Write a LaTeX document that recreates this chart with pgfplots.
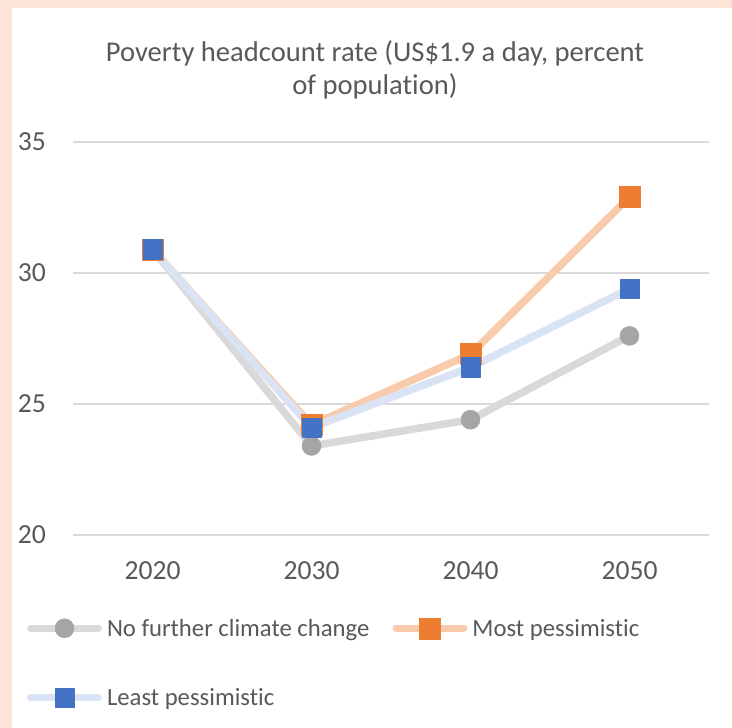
\documentclass[border=0pt]{standalone}
\usepackage{fontspec}
\setmainfont{Carlito}[Ligatures=NoCommon]
\usepackage{pgfplots}
\pgfplotsset{compat=1.18}
\definecolor{peach}{HTML}{FCE4D6}
\definecolor{txt}{HTML}{595959}
\definecolor{gridc}{HTML}{D9D9D9}
\definecolor{greyL}{HTML}{D9D9D9}
\definecolor{greyM}{HTML}{A5A5A5}
\definecolor{orL}{HTML}{F8CBAD}
\definecolor{orM}{HTML}{ED7D31}
\definecolor{blL}{HTML}{DAE3F3}
\definecolor{blM}{HTML}{4472C4}
\begin{document}
\begin{tikzpicture}
\useasboundingbox (-73bp,-193bp) rectangle (659bp,535bp);
\fill[peach] (-73bp,-193bp) rectangle (659bp,535bp);
\fill[white] (-61bp,-193bp) rectangle (659bp,527bp);
\begin{axis}[
 at={(0,0)}, anchor=south west, scale only axis,
 width=636bp, height=393bp,
 xmin=-0.5, xmax=3.5, ymin=20, ymax=35,
 xtick={0,1,2,3}, xticklabels={2020,2030,2040,2050},
 ytick={20,25,30,35}, yticklabels={20,25,30,35},
 ymajorgrids, major grid style={gridc, line width=2.25bp},
 axis line style={draw=none}, major tick length=0pt,
 clip=false,
 every tick label/.append style={font=\fontsize{27.7}{33}\selectfont, text=txt},
 yticklabel style={anchor=east, inner sep=0pt, xshift=-27bp},
 xticklabel style={anchor=center, inner sep=0pt, yshift=-36bp},
 title={Poverty headcount rate (US\$1.9 a day, percent\\of population)},
 title style={align=center, font=\fontsize{28.7}{33}\selectfont, text=txt, at={(0.4748,1.169)}, anchor=center, inner sep=0pt},
 legend columns=2,
 legend style={at={(-0.0723,-0.3244)}, anchor=west, draw=none, fill=none, inner sep=0pt, outer sep=0pt,
   font=\fontsize{24.8}{29}\selectfont, text=txt, row sep=49bp,
   nodes={inner sep=0pt},
   /tikz/every odd column/.append style={column sep=5bp},
   /tikz/every even column/.append style={column sep=23bp}},
 legend cell align=left,
 legend image code/.code={\draw[#1,mark repeat=2,mark phase=2] plot coordinates {(3.75bp,0bp)(37.5bp,0bp)(71.25bp,0bp)};},
]
\addplot[greyL, line width=7.5bp, line cap=round, line join=round, mark=*, mark size=9.5bp,
  mark options={solid, fill=greyM, draw=greyM, line width=0.5bp}]
  coordinates {(0,30.9)(1,23.4)(2,24.4)(3,27.6)};
\addplot[orL, line width=7.5bp, line cap=round, line join=round, mark=square*, mark size=10.5bp,
  mark options={solid, fill=orM, draw=orM, line width=0.5bp}]
  coordinates {(0,30.9)(1,24.2)(2,26.9)(3,32.9)};
\addplot[blL, line width=7.5bp, line cap=round, line join=round, mark=square*, mark size=9.7bp,
  mark options={solid, fill=blM, draw=blM, line width=0.5bp}]
  coordinates {(0,30.9)(1,24.1)(2,26.4)(3,29.4)};
\legend{No further climate change, Most pessimistic, Least pessimistic}
\end{axis}
\end{tikzpicture}
\end{document}
